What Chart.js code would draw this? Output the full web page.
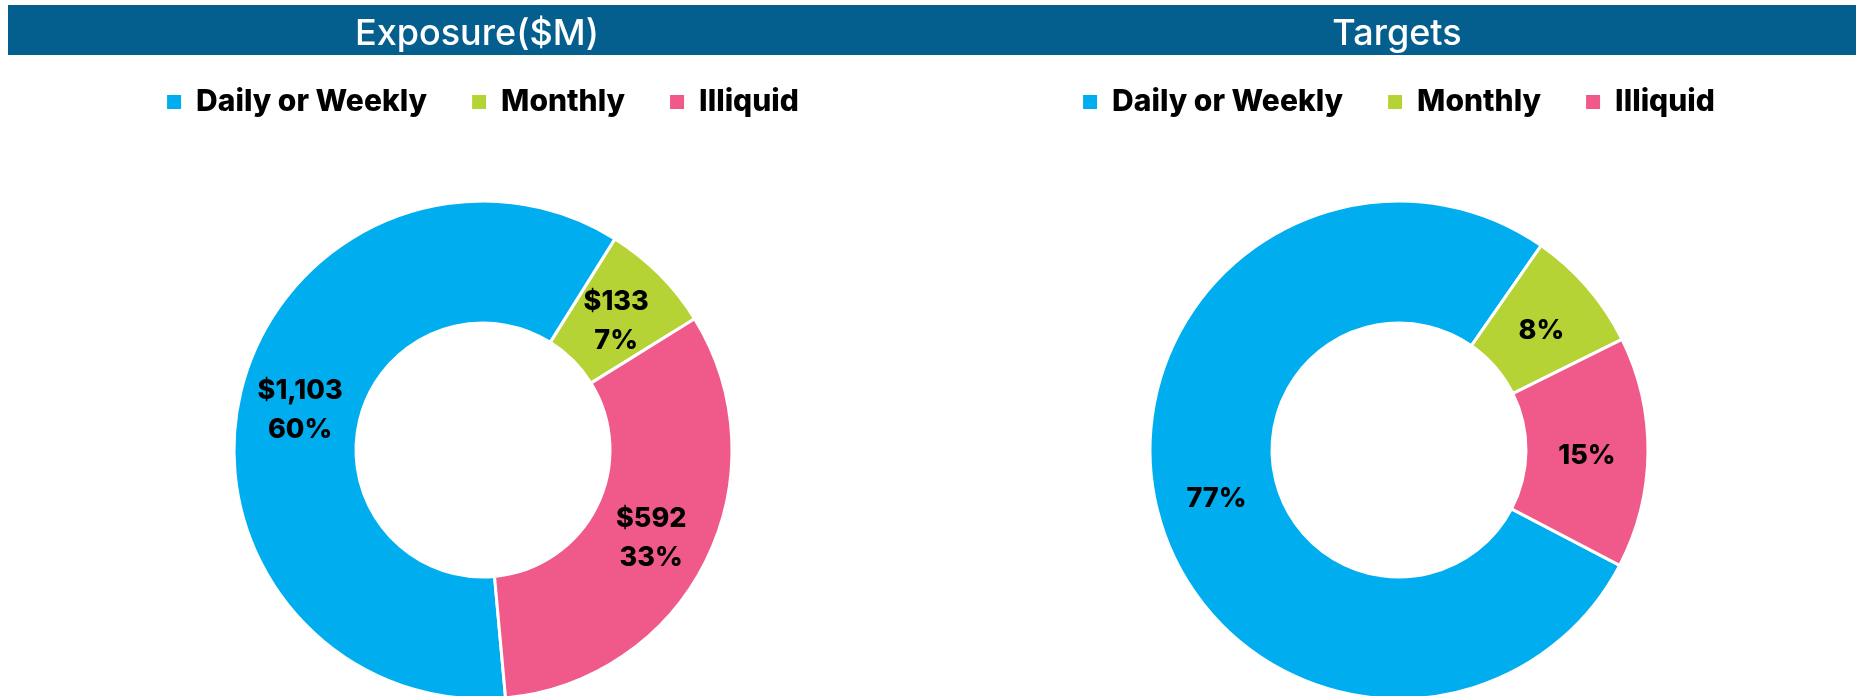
<!DOCTYPE html>
<html lang="en">
<head>
    <meta charset="UTF-8">
    <title>Exposure ($M) and Targets</title>
    <style>
        body {
            margin: 0;
            width: 1856px;
            height: 696px;
            overflow: hidden;
            background: #ffffff;
            font-family: 'Inter', sans-serif;
            position: relative;
        }

        /* blue band with both titles */
        .title-bar {
            position: absolute;
            left: 8px;
            top: 5px;
            width: 1848px;
            height: 50px;
            background: #045e8e;
            z-index: 2;
        }

        .title-bar span {
            position: absolute;
            top: 2px;
            line-height: 50px;
            color: #ffffff;
            font-size: 36px;
            font-weight: 500;
            transform: translateX(-50%);
            white-space: nowrap;
        }

        .chart-box {
            position: absolute;
            top: 42px;
            height: 731px;
        }
    </style>
</head>
<body>

<div class="title-bar">
    <span style="left: 469px;">Exposure($M)</span>
    <span style="left: 1389px;">Targets</span>
</div>

<div class="chart-box" style="left: 24px; width: 918px;">
    <canvas id="exposureChart"></canvas>
</div>
<div class="chart-box" style="left: 941px; width: 916px;">
    <canvas id="targetsChart"></canvas>
</div>

<script src="https://cdn.jsdelivr.net/npm/chart.js"></script>
<script>
    // categories and values
    const categories = ['Daily or Weekly', 'Monthly', 'Illiquid'];
    const colors = ['#00aeef', '#b5d334', '#f05a8a'];

    const exposureValues = [1103, 133, 592];     // $M
    const exposurePercents = [60, 7, 33];        // as printed on the slices
    const targetValues = [77, 8, 15];            // %

    const legendFont = { family: 'Inter', size: 30, weight: '800' };
    const labelFont = { family: 'Inter', size: 27, weight: '800' };

    // draws the text lines in the middle of each slice
    const sliceLabels = {
        id: 'sliceLabels',
        afterDatasetsDraw(chart, args, opts) {
            const ctx = chart.ctx;
            const arcs = chart.getDatasetMeta(0).data;
            ctx.save();
            ctx.fillStyle = '#000000';
            ctx.textAlign = 'center';
            ctx.textBaseline = 'middle';
            ctx.font = `${labelFont.weight} ${labelFont.size}px ${labelFont.family}`;
            arcs.forEach((arc, i) => {
                const p = arc.getCenterPoint();
                const lines = opts.lines(i);
                const gap = 39;
                const y0 = p.y + 4 - (lines.length - 1) * gap / 2;
                lines.forEach((t, j) => ctx.fillText(t, p.x, y0 + j * gap));
            });
            ctx.restore();
        }
    };

    function legendItems(chart) {
        const items = Chart.overrides.doughnut.plugins.legend.labels.generateLabels(chart);
        return items.map(it => Object.assign(it, { lineWidth: 0, strokeStyle: 'transparent' }));
    }

    function makeDonut(id, values, rotation, lines) {
        return new Chart(document.getElementById(id), {
            type: 'doughnut',
            data: {
                labels: categories,
                datasets: [{
                    data: values,
                    backgroundColor: colors,
                    borderColor: '#ffffff',
                    borderWidth: 3,
                    hoverOffset: 0
                }]
            },
            options: {
                responsive: true,
                maintainAspectRatio: false,
                animation: false,
                rotation: rotation,
                radius: 249,
                cutout: '51%',
                layout: { padding: 0 },
                plugins: {
                    legend: {
                        position: 'top',
                        labels: {
                            boxWidth: 14,
                            boxHeight: 14,
                            padding: 45,
                            color: '#000000',
                            font: legendFont,
                            generateLabels: legendItems
                        }
                    },
                    tooltip: { enabled: false },
                    sliceLabels: { lines: lines }
                }
            },
            plugins: [sliceLabels]
        });
    }

    makeDonut('exposureChart', exposureValues, 174.8,
        i => ['$' + exposureValues[i].toLocaleString('en-US'), exposurePercents[i] + '%']);

    makeDonut('targetsChart', targetValues, 117.6,
        i => [targetValues[i] + '%']);
</script>

</body>
</html>
